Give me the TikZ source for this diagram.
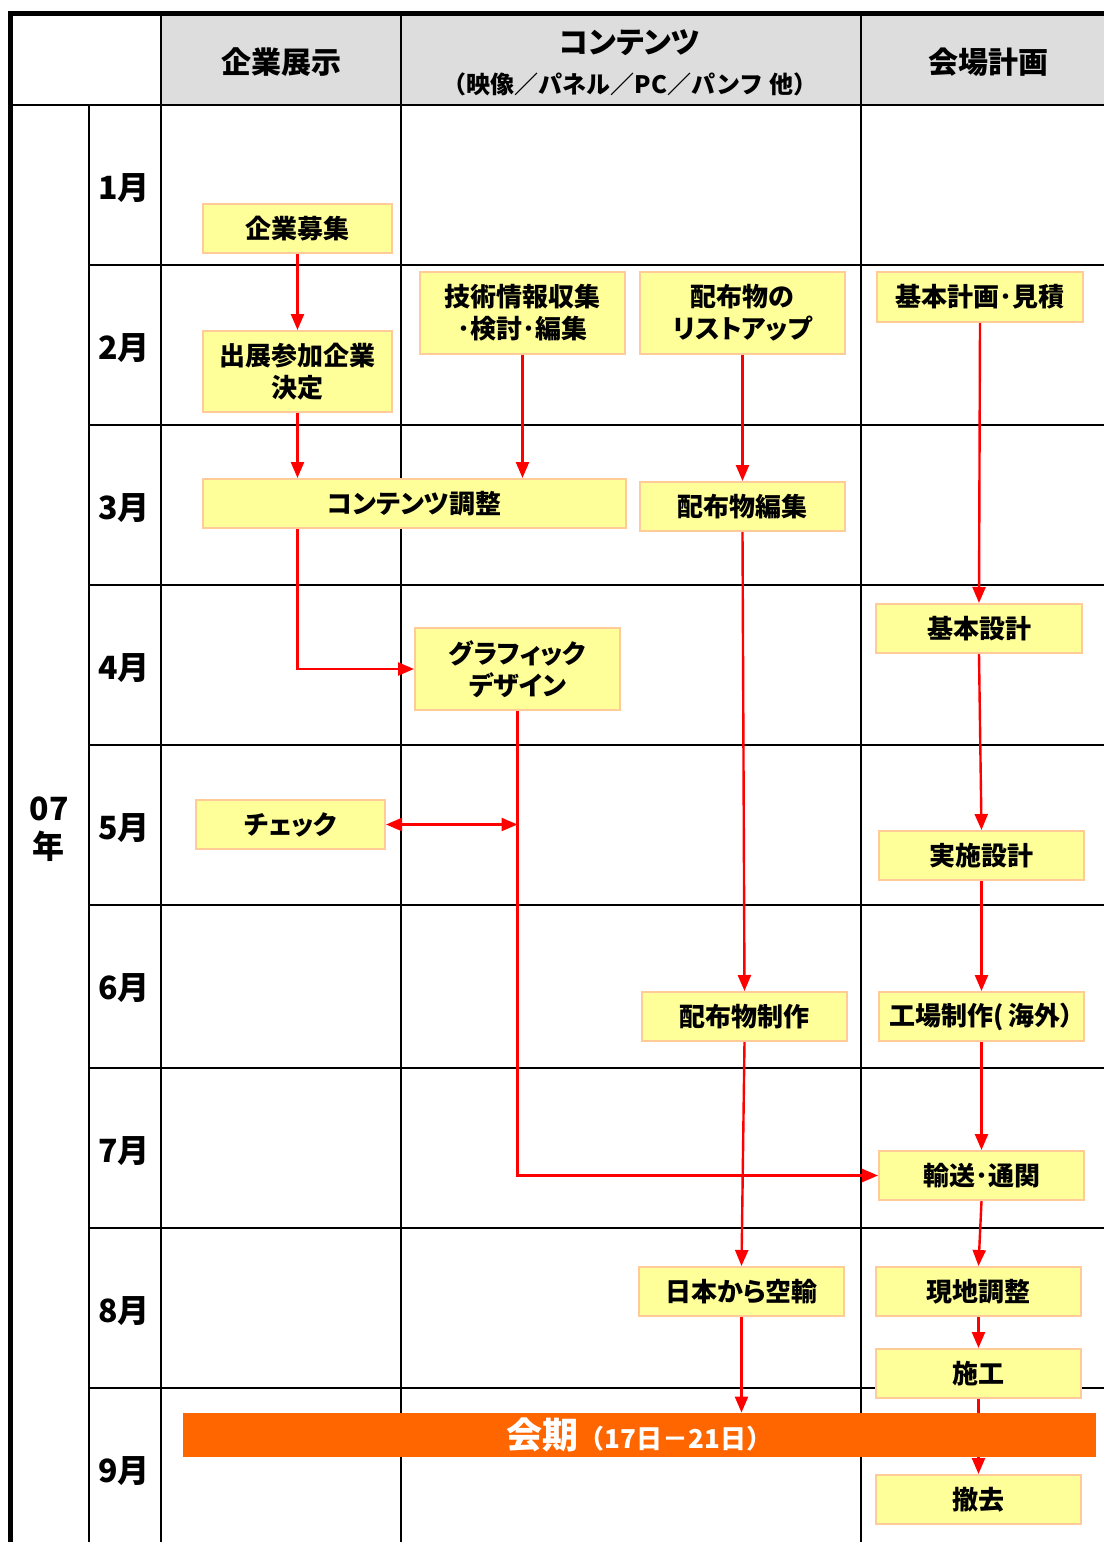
\documentclass[tikz,border=0pt]{standalone}
\usepackage{fontspec}
\setmainfont{Noto Sans CJK JP}[RawFeature=+palt]
\usetikzlibrary{arrows.meta}
\definecolor{hdrgray}{HTML}{DDDDDD}
\definecolor{boxfill}{HTML}{FFFF99}
\definecolor{boxline}{HTML}{FFCC99}
\definecolor{arrred}{HTML}{FF0000}
\definecolor{barorange}{HTML}{FF6600}
\tikzset{
  tline/.style={line width=1.3pt, black},
  thick line/.style={line width=2.4pt, black},
  bx/.style={draw=boxline, fill=boxfill, line width=1pt, inner sep=0pt,
    align=center, font=\fontsize{13pt}{16pt}\selectfont\bfseries,
    minimum width=102.5pt, minimum height=24.5pt},
  hdr/.style={font=\fontsize{15pt}{18pt}\selectfont\bfseries},
  mon/.style={font=\fontsize{16pt}{19pt}\selectfont\bfseries},
  arr/.style={draw=arrred, line width=1.2pt, -{Triangle[length=8pt,width=6.5pt]}},
  arrboth/.style={draw=arrred, line width=1.2pt, {Triangle[length=8pt,width=6.5pt]}-{Triangle[length=8pt,width=6.5pt]}},
}
\begin{document}
\begin{tikzpicture}[x=0.5pt,y=-0.5pt]
\useasboundingbox (0,0) rectangle (1104,1542);
\begin{scope}
\clip (0,0) rectangle (1104,1542);
% header fill
\fill[hdrgray] (161,14) rectangle (1104,105);
% row lines
\foreach \yy in {265,425,585,745,905,1068,1228,1388}
  \draw[tline] (89,\yy) -- (1104,\yy);
\draw[tline] (8,105) -- (1104,105);
% vertical lines
\draw[tline] (89,105) -- (89,1542);
\draw[tline] (161,14) -- (161,1542);
\draw[tline] (401,14) -- (401,1542);
\draw[tline] (861,14) -- (861,1542);
% outer thick lines
\draw[thick line] (8,13.5) -- (1104,13.5);
\draw[thick line] (10.5,12) -- (10.5,1542);
\end{scope}

% header texts
\node[hdr] (h1) at (281,62) {企業展示};
\node[hdr] (h2) at (630,43) {コンテンツ};
\node[font=\fontsize{12pt}{15pt}\selectfont\bfseries\addfontfeatures{RawFeature=-palt}] (h2b) at (630,84) {（映像／パネル／PC／パンフ 他）};
\node[hdr] (h3) at (988,62) {会場計画};

% months
\node[mon] (m1) at (124,188) {1月};
\node[mon] (m2) at (124,348) {2月};
\node[mon] (m3) at (124,508) {3月};
\node[mon] (m4) at (124,668) {4月};
\node[mon] (m5) at (124,828) {5月};
\node[mon] (m6) at (124,988) {6月};
\node[mon] (m7) at (124,1151) {7月};
\node[mon] (m8) at (124,1311) {8月};
\node[mon] (m9) at (124,1471) {9月};
\node[mon, align=center, font=\fontsize{16pt}{19pt}\selectfont\bfseries] (yr) at (49,829) {07\\年};

% boxes
\node[bx, minimum width=94.5pt] (b1) at (297.5,228.5) {企業募集};
\node[bx, minimum width=94.5pt, minimum height=40.5pt] (b2) at (297.5,371.5) {出展参加企業\\決定};
\node[bx, minimum height=41pt] (b3) at (522.5,313) {技術情報収集\\･検討･編集};
\node[bx, minimum height=41pt] (b4) at (742.5,313) {配布物の\\リストアップ};
\node[bx, minimum width=103pt, minimum height=25pt] (b5) at (980,297) {基本計画･見積};
\node[bx, minimum width=211.5pt] (b6) at (414.5,503.5) {コンテンツ調整};
\node[bx] (b7) at (742.5,506.5) {配布物編集};
\node[bx, minimum width=103pt] (b8) at (979,628.5) {基本設計};
\node[bx, minimum height=41pt] (b9) at (517.5,669) {グラフィック\\デザイン};
\node[bx, minimum width=94.5pt] (b10) at (290.5,824.5) {チェック};
\node[bx] (b11) at (981.5,855.5) {実施設計};
\node[bx] (b12) at (744.5,1016.5) {配布物制作};
\node[bx] (b13) at (981.5,1016.5) {工場制作(\,海外）};
\node[bx] (b14) at (981.5,1175.5) {輸送･通関};
\node[bx] (b15) at (741.5,1291.5) {日本から空輸};
\node[bx] (b16) at (978.5,1291.5) {現地調整};
\node[bx] (b17) at (978.5,1373.5) {施工};
\node[bx] (b18) at (978.5,1499.5) {撤去};

% arrows
\draw[arr] (b1.south) -- (b2.north);
\draw[arr] (b2.south) -- (b6.north -| b2.south);
\draw[arr] (b3.south) -- (b6.north -| b3.south);
\draw[arr] (b4.south) -- (b7.north);
\draw[arr] (b5.south) -- (b8.north);
\draw[arr] (b6.south -| b2.south) |- (b9.west);
\draw[arr] (b9.south) |- (b14.west);
\draw[arrboth] (b10.east) -- (b10.east -| b9.south);
\draw[arr] (b7.south) -- (b12.north);
\draw[arr] (b8.south) -- (b11.north);
\draw[arr] (b11.south) -- (b13.north);
\draw[arr] (b13.south) -- (b14.north);
\draw[arr] (b14.south) -- (b16.north);
\draw[arr] (b12.south) -- (b15.north);
\draw[arr] (b16.south) -- (b17.north);
\draw[arr] (b17.south) -- (b18.north);

% exhibition period bar
\node[fill=barorange, inner sep=0pt, minimum width=456.5pt, minimum height=22pt, text=white] (bar) at (639.5,1435)
  {\fontsize{18pt}{20pt}\selectfont\bfseries 会期{\fontsize{13pt}{15pt}\selectfont\bfseries\addfontfeatures{RawFeature=-palt}（17日－21日）}};
\draw[arr] (b15.south) -- (b15.south |- bar.north);
\end{tikzpicture}
\end{document}
